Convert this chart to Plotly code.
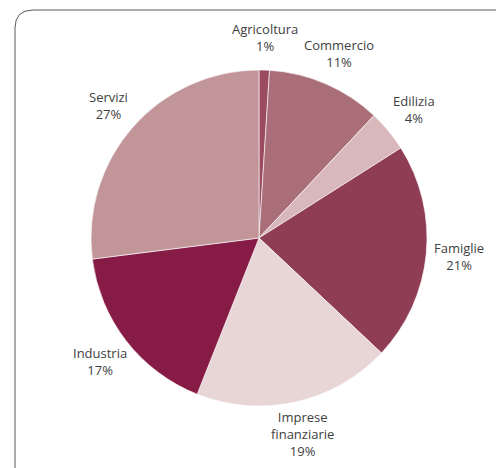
import numpy as np
import plotly.graph_objects as go

settori = ['Agricoltura', 'Commercio', 'Edilizia', 'Famiglie',
           'Imprese finanziarie', 'Industria', 'Servizi']
quote = [1, 11, 4, 21, 19, 17, 27]
colori = ['#9b4b5e', '#a96e78', '#d9b8bb', '#8f3d55',
          '#e8d5d6', '#861b45', '#c29599']

W, H = 496, 468
CX, CY, R = 259, 238, 168      # centro e raggio della torta (pixel)
DIST = 201                     # distanza delle etichette dal centro

fig = go.Figure()
fig.add_trace(go.Pie(
    labels=settori,
    values=quote,
    textinfo='none',
    hoverinfo='label+percent',
    marker=dict(colors=colori, line=dict(color='white', width=0.6)),
    sort=False,
    direction='clockwise',
    rotation=0,
    showlegend=False,
    domain=dict(x=[(CX - R) / W, (CX + R) / W],
                y=[(H - CY - R) / H, (H - CY + R) / H]),
))

# etichette esterne, posizionate sull'angolo medio di ogni fetta
q = np.array(quote, dtype=float)
medi = (np.cumsum(q) - q / 2) / q.sum() * 2 * np.pi
for nome, val, a in zip(settori, quote, medi):
    px = CX + DIST * np.sin(a)
    py = CY - DIST * np.cos(a)
    fig.add_annotation(
        x=px / W, y=1 - py / H, xref='paper', yref='paper',
        text=nome.replace(' ', '<br>') + f'<br>{val}%',
        showarrow=False, align='center',
        xanchor='center', yanchor='middle',
        font=dict(family='Open Sans', size=13, color='#404040'),
    )

# riquadro con angoli arrotondati
x0, y0, r = 15 / W, 1 - 10 / H, 18
rx, ry = r / W, r / H
fig.add_shape(
    type='path', xref='paper', yref='paper',
    path=(f'M {x0} -0.05 L {x0} {y0 - ry} '
          f'Q {x0} {y0} {x0 + rx} {y0} L 1.05 {y0}'),
    line=dict(color='#5a5a5a', width=1),
)

fig.update_layout(
    width=W, height=H,
    margin=dict(l=0, r=0, t=0, b=0),
    paper_bgcolor='white',
    plot_bgcolor='white',
)
fig.write_html('out.html', config={'displayModeBar': False},
               post_script="document.body.style.margin='0';")
